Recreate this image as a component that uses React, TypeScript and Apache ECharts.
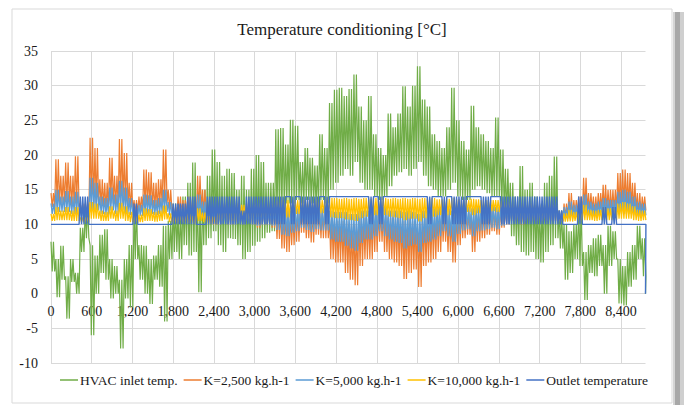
import React, { useEffect, useRef } from "react";
import * as echarts from "echarts";

// Hourly year (0..8760 h). Each 72 h block holds the high and the low of the
// oscillation; the series swings between them inside the block.
const BLOCK_HOURS = 72;
const SWING_HOURS = 18;
const YEAR_END = 8760;

const seriesNames = [
  "HVAC inlet temp.",
  "K=2,500 kg.h-1",
  "K=5,000 kg.h-1",
  "K=10,000 kg.h-1",
  "Outlet temperature",
];
const seriesColors = ["#70AD47", "#ED7D31", "#5B9BD5", "#FFC000", "#4472C4"];

const inletHi = [
  7.5, 5, 6.9, 2.5, 5, 3, 9.5, 12.5, 7, 5.5,
  8.5, 9.3, 5, 4, 2, 5, 7, 13, 7, 6.9,
  5, 5.5, 7, 9.8, 10.5, 13, 12, 14, 16, 18.9,
  14, 15, 17, 20.8, 19, 17, 18, 17.4, 15, 17,
  15, 18, 20, 19, 16, 16, 23.7, 23.9, 21.5, 25.1,
  24.2, 19, 21, 19.6, 18.5, 23, 21, 27.5, 29.4, 29.7,
  28.5, 29.5, 31.6, 27, 25, 28.5, 23, 21, 20, 26,
  24, 26, 29.9, 27, 30, 32.8, 28, 27, 23, 22,
  21, 24, 29.7, 25, 22, 20.8, 27.1, 24, 23, 22,
  21, 25.4, 20.8, 18, 16, 14, 18.4, 15, 16, 14,
  13, 16, 17, 19.8, 12, 10, 9, 10, 13, 6,
  7, 8, 8.5, 7, 9.8, 9, 5, 4, 6, 7,
  9.8, 8,
];
const inletLo = [
  3.2, -0.5, 2, -3.6, 1.7, 0, 6, 8, -6, 0,
  3, 2, -0.7, 0, -7.9, -0.7, -2, 5, 2, 0,
  -1.5, 2, 1, -4, 5, 6, 5, 7, 5.5, 6,
  0.2, 7, 8, 9, 7, 6, 8, 7.9, 7, 5,
  6, 6.9, 7.5, 8, 8.8, 9, 11, 12, 13, 13,
  13.5, 13, 13.5, 13, 12.5, 13.5, 13, 15, 16, 17,
  18, 17, 19, 16, 15, 15, 14, 13.5, 14, 15.5,
  17, 17.5, 18, 17, 18, 19, 17, 15.5, 15, 14,
  14, 15, 16, 14, 13.5, 13.5, 15, 15.5, 15, 14.5,
  14, 14, 12, 11, 8.3, 7, 6, 5.5, 6, 5,
  4.5, 6, 7, 8, 6.5, 2, 3, 5, 4, -0.9,
  3, 2.5, 4, 0, 4, 5, -1.4, -1.7, 1, 2,
  5, 2.5,
];

const k2500Hi = [
  14.5, 19.4, 17, 18.9, 17, 19.8, 13, 13, 22.5, 21,
  16.5, 16, 19.6, 17, 22.3, 20.3, 16, 13.5, 14, 17.9,
  17.5, 16, 16.5, 20.8, 15, 12.5, 14, 13.5, 14, 13,
  17, 15, 12.5, 12, 12.5, 13, 12.5, 12.5, 13, 12.5,
  13, 12.5, 12, 12.5, 12.5, 12.5, 12, 12, 12, 11.5,
  12, 12.5, 12, 12, 12.5, 12, 12.5, 11, 10.5, 10.5,
  10.5, 10, 10, 11, 11, 11, 12, 12, 12, 11,
  11, 11, 10.5, 11, 10.5, 10, 11, 11, 11.5, 12,
  12, 11.5, 11, 12, 12, 12, 11.5, 12, 12, 12,
  12.5, 12, 12.5, 12.5, 12.5, 12, 12.5, 12, 12.5, 12,
  12.5, 12, 12.5, 12, 12, 13, 14.5, 13.5, 14, 16.7,
  14.5, 14, 14.5, 15.7, 15, 15, 17.4, 17.9, 17.4, 16,
  14.5, 14,
];
const k2500Lo = [
  12.5, 13, 13, 13, 12.5, 12.5, 11.5, 11.5, 13, 13,
  12.5, 12, 13, 12.5, 13, 12.5, 12, 11.5, 12, 12.5,
  12.5, 12, 12.5, 13, 12, 11, 11.5, 11, 11, 10.5,
  12, 11.5, 10.5, 10, 10, 10.5, 10, 10, 10.5, 10,
  10.5, 10, 9.5, 10, 10, 9.5, 7.9, 6.5, 6, 7,
  7.5, 8.8, 8, 7.4, 8.5, 8, 8, 5, 4.5, 4.5,
  3, 2, 1.2, 4, 5, 5, 6, 7.5, 6, 5,
  4.5, 4, 2.1, 3, 3.5, 0.95, 4, 4.5, 5, 6,
  7.5, 6, 4.5, 7, 8, 8.5, 6, 7.5, 8, 8.5,
  9, 8.5, 9.5, 10, 10.5, 10.5, 10, 10.5, 10.5, 10.5,
  10.5, 10.5, 10.5, 10.5, 10.5, 11, 11, 11.5, 11.5, 12,
  12, 11.5, 12, 12, 12, 12, 12.5, 12.5, 12.5, 12,
  11.5, 12,
];

const k5000Hi = [
  13, 15, 14, 14.8, 14, 14.7, 12.3, 12.3, 16.7, 16,
  14, 13.8, 15.3, 14.3, 16.3, 15.3, 13.8, 12.5, 12.8, 14.3,
  14.2, 13.5, 13.8, 15, 13.2, 12, 12.8, 12.5, 12.8, 12.3,
  14.3, 13.3, 12, 11.8, 12, 12.3, 12, 12, 12.3, 12,
  12.3, 12, 11.8, 12, 12, 12, 12.3, 12.3, 12.3, 12,
  12.3, 12.5, 12.3, 12.3, 12.5, 12.3, 12.5, 12, 11.8, 11.8,
  11.8, 11.5, 11.5, 12, 12, 12, 12.5, 12.5, 12.5, 12,
  12, 12, 11.8, 12, 11.8, 11.5, 12, 12, 12.3, 12.5,
  12.5, 12.3, 12, 12.5, 12.5, 12.5, 12.3, 12.5, 12.5, 12.5,
  12.8, 12.5, 12.8, 12.8, 12.5, 12.3, 12.5, 12.3, 12.5, 12.3,
  12.5, 12.3, 12.5, 12.3, 12, 12.5, 13.3, 12.8, 13, 14.3,
  13.3, 13, 13.3, 13.8, 13.5, 13.5, 14.7, 15, 14.7, 14,
  13.3, 13,
];
const k5000Lo = [
  11.5, 11.8, 11.8, 11.8, 11.5, 11.5, 11, 11, 12, 12,
  11.5, 11.3, 12, 11.5, 12, 11.5, 11.3, 11, 11.2, 11.5,
  11.5, 11.3, 11.5, 11.8, 11.3, 10.5, 11, 10.6, 10.6, 10.3,
  11.3, 11, 10.3, 10, 10, 10.2, 10, 10, 10.2, 10,
  10.2, 10, 9.8, 10, 10, 9.8, 9.2, 8.5, 8.3, 8.8,
  9, 9.5, 9.2, 8.9, 9.3, 9.1, 9.1, 7.8, 7.5, 7.5,
  6.9, 6.5, 6.2, 7.3, 7.8, 7.8, 8.3, 9, 8.3, 7.8,
  7.5, 7.3, 6.5, 6.9, 7.1, 6, 7.3, 7.5, 7.8, 8.3,
  9, 8.3, 7.5, 8.6, 9.1, 9.3, 8.3, 9, 9.1, 9.3,
  9.5, 9.3, 9.8, 10, 10.5, 10.5, 10.3, 10.5, 10.5, 10.5,
  10.5, 10.5, 10.5, 10.5, 10.5, 10.8, 10.8, 11, 11, 11.3,
  11.3, 11, 11.3, 11.3, 11.3, 11.3, 11.5, 11.5, 11.5, 11.3,
  11, 11.3,
];

const k10000Hi = [
  11.5, 12.5, 12, 12.5, 12, 12.5, 11, 11, 13.2, 13,
  12, 11.8, 12.6, 12, 13.1, 12.6, 11.8, 11.2, 11.4, 12.3,
  12.2, 11.8, 12, 12.7, 11.6, 11, 11.5, 11.3, 11.5, 11.2,
  12.3, 11.7, 11.2, 11.1, 12, 12.5, 12.3, 12.5, 13, 12.8,
  12.5, 12.8, 13, 12.8, 13, 13, 13.3, 13.5, 13.5, 13.3,
  13.5, 13.6, 13.5, 13.5, 13.6, 13.5, 13.6, 13.8, 13.8, 13.7,
  13.8, 13.7, 13.8, 13.7, 13.8, 13.7, 13.8, 13.6, 13.8, 13.7,
  13.8, 13.7, 13.8, 13.7, 13.8, 13.7, 13.8, 13.7, 13.8, 13.6,
  13.6, 13.7, 13.8, 13.6, 13.5, 13.5, 13.7, 13.6, 13.5, 13.5,
  13.5, 13.5, 13.3, 13.2, 13, 12.8, 13, 12.8, 13, 12.8,
  12.8, 12.8, 13, 12.8, 11.3, 11.6, 12.1, 11.8, 12, 12.8,
  12.1, 12, 12.1, 12.5, 12.3, 12.3, 13, 13.2, 13, 12.6,
  12.1, 12,
];
const k10000Lo = [
  10.5, 10.6, 10.6, 10.6, 10.5, 10.5, 10.3, 10.3, 10.8, 10.8,
  10.5, 10.5, 10.8, 10.5, 10.8, 10.5, 10.3, 10.2, 10.3, 10.5,
  10.5, 10.4, 10.5, 10.7, 10.3, 10.1, 10.3, 10.2, 10.2, 10.1,
  10.5, 10.3, 10.1, 10, 10.5, 10.8, 10.5, 10.5, 11, 10.8,
  10.8, 10.8, 11, 11, 11.2, 11.2, 11.5, 11.2, 11, 11.3,
  11.5, 11.8, 11.6, 11.4, 11.7, 11.6, 11.6, 11, 10.9, 10.9,
  10.7, 10.6, 10.5, 10.9, 11.1, 11.1, 11.3, 11.6, 11.3, 11.1,
  11, 10.9, 10.6, 10.8, 10.8, 10.4, 10.9, 11, 11.1, 11.3,
  11.6, 11.3, 11, 11.5, 11.7, 11.8, 11.3, 11.6, 11.7, 11.8,
  11.9, 11.8, 12, 12, 11.5, 11.3, 11.2, 11.3, 11.5, 11.3,
  11.2, 11.3, 11.5, 11.3, 10.3, 10.4, 10.4, 10.5, 10.5, 10.6,
  10.6, 10.5, 10.6, 10.6, 10.6, 10.6, 10.8, 10.8, 10.8, 10.6,
  10.5, 10.6,
];

const outletHi = [
  10, 10, 10, 10, 10, 10, 14, 14, 10, 10,
  10, 10, 10, 10, 10, 10, 10, 13, 10, 10,
  10, 10, 10, 10, 10, 13, 13, 13, 14, 14,
  10, 10, 14, 14, 14, 14, 14, 14, 14, 12,
  14, 14, 14, 14, 14, 14, 14, 14, 14, 14,
  14, 14, 14, 14, 14, 14, 14, 14, 14, 14,
  14, 14, 14, 14, 14, 14, 14, 14, 14, 14,
  14, 14, 14, 14, 14, 14, 14, 14, 14, 14,
  14, 14, 14, 14, 14, 14, 14, 14, 14, 14,
  14, 14, 14, 14, 14, 14, 14, 14, 14, 14,
  14, 14, 14, 14, 12, 10, 10, 10, 14, 10,
  10, 10, 10, 12.5, 10, 12.5, 10, 10, 10, 10,
  10, 10,
];
const outletLo = [
  10, 10, 10, 10, 10, 10, 10, 10, 10, 10,
  10, 10, 10, 10, 10, 10, 10, 10, 10, 10,
  10, 10, 10, 10, 10, 10, 10, 10, 10, 10,
  10, 10, 10, 10, 10, 10, 10, 10, 10, 10,
  10, 10, 10, 10, 10, 10, 10, 10, 14, 10,
  14, 10, 10, 10, 10, 14, 10, 14, 14, 14,
  14, 14, 14, 14, 14, 10, 14, 10, 14, 14,
  14, 14, 14, 14, 14, 14, 14, 10, 14, 14,
  10, 14, 10, 10, 10, 14, 14, 14, 10, 10,
  14, 14, 10, 10, 10, 10, 10, 10, 10, 10,
  10, 10, 10, 10, 10, 10, 10, 10, 10, 10,
  10, 10, 10, 10, 10, 10, 10, 10, 10, 10,
  10, 10,
];

// value at hour 8760 (last row of the year)
const endValues = [0, 12.5, 11.5, 10.8, 0];

const yTicks = { min: -10, max: 35, interval: 5 };
const xTicks = { min: 0, max: YEAR_END, interval: 600 };

const FONT = "Liberation Serif";
const TEXT = "#1a1a1a";
const GRID = "#d9d9d9";

const GRID_TOP = 51;
const GRID_BOTTOM = 42;
const CHART_H = 405;

function toSeriesData(hi: number[], lo: number[], end: number) {
  const out: [number, number][] = [];
  hi.forEach((h, i) => {
    const t0 = i * BLOCK_HOURS;
    for (let t = 0; t < BLOCK_HOURS; t += 2 * SWING_HOURS) {
      out.push([t0 + t, h]);
      out.push([t0 + t + SWING_HOURS, lo[i]]);
    }
  });
  out.push([YEAR_END, end]);
  return out;
}

const allHi = [inletHi, k2500Hi, k5000Hi, k10000Hi, outletHi];
const allLo = [inletLo, k2500Lo, k5000Lo, k10000Lo, outletLo];
const lineWidths = [1.2, 1.2, 1.2, 1.2, 1.4];

export default function App() {
  const ref = useRef<HTMLDivElement>(null);

  useEffect(() => {
    if (!ref.current) return;
    const chart = echarts.init(ref.current, undefined, { renderer: "svg" });
    const nSplit = Math.floor((xTicks.max - xTicks.min) / xTicks.interval) + 2;
    const splitColors: string[] = [];
    for (let i = 0; i < nSplit; i++) splitColors.push(i === nSplit - 1 ? "rgba(0,0,0,0)" : GRID);

    // distance of the zero line above the bottom of the plot
    const plotH = CHART_H - GRID_TOP - GRID_BOTTOM;
    const zeroOffset = (plotH * (0 - yTicks.min)) / (yTicks.max - yTicks.min);

    chart.setOption({
      animation: false,
      backgroundColor: "#ffffff",
      textStyle: { fontFamily: FONT },
      title: {
        text: "Temperature conditioning [°C]",
        left: "center",
        top: 16,
        textStyle: { fontFamily: FONT, fontSize: 17, fontWeight: "normal", color: TEXT },
      },
      grid: { left: 51, right: 38.5, top: GRID_TOP, bottom: GRID_BOTTOM, containLabel: false },
      xAxis: {
        type: "value",
        min: xTicks.min,
        max: xTicks.max,
        interval: xTicks.interval,
        offset: -zeroOffset,
        axisLine: { show: true, onZero: false, lineStyle: { color: GRID, width: 1 } },
        axisTick: { show: false },
        axisLabel: {
          margin: 11,
          fontFamily: FONT,
          fontSize: 14,
          color: TEXT,
          formatter: (v: number) => (v % 600 === 0 ? v.toLocaleString("en-US") : ""),
        },
        splitLine: { show: true, lineStyle: { color: splitColors, width: 1 } },
      },
      yAxis: {
        type: "value",
        min: yTicks.min,
        max: yTicks.max,
        interval: yTicks.interval,
        axisLine: { show: false },
        axisTick: { show: false },
        axisLabel: { margin: 13, fontFamily: FONT, fontSize: 14, color: TEXT },
        splitLine: { show: true, lineStyle: { color: GRID, width: 1 } },
      },
      legend: {
        top: 368,
        left: 55,
        icon: "rect",
        itemWidth: 18,
        itemHeight: 1.5,
        itemGap: 6,
        textStyle: { fontFamily: FONT, fontSize: 13.5, color: TEXT, padding: [0, 0, 0, -3] },
        data: seriesNames,
      },
      graphic: [
        {
          type: "rect",
          shape: { x: 12, y: 9, width: 660, height: 394 },
          style: { fill: "none", stroke: "#d9d9d9", lineWidth: 1 },
          silent: true,
        },
        { type: "rect", shape: { x: 673, y: 12, width: 2, height: 393 }, style: { fill: "#d4d4d4" }, silent: true },
        { type: "rect", shape: { x: 675, y: 12, width: 5, height: 393 }, style: { fill: "#a8a8a8" }, silent: true },
        { type: "rect", shape: { x: 680, y: 12, width: 4, height: 393 }, style: { fill: "#cfcfcf" }, silent: true },
      ],
      series: seriesNames.map((name, i) => ({
        name,
        type: "line",
        showSymbol: false,
        symbol: "none",
        data: toSeriesData(allHi[i], allLo[i], endValues[i]),
        lineStyle: { width: lineWidths[i], color: seriesColors[i] },
        itemStyle: { color: seriesColors[i] },
        z: 2 + i,
      })),
    });
    return () => chart.dispose();
  }, []);

  return (
    <div style={{ position: "fixed", left: 0, top: 0, width: 684, height: 405, background: "#fff" }}>
      <div ref={ref} style={{ width: 684, height: 405 }} />
    </div>
  );
}
